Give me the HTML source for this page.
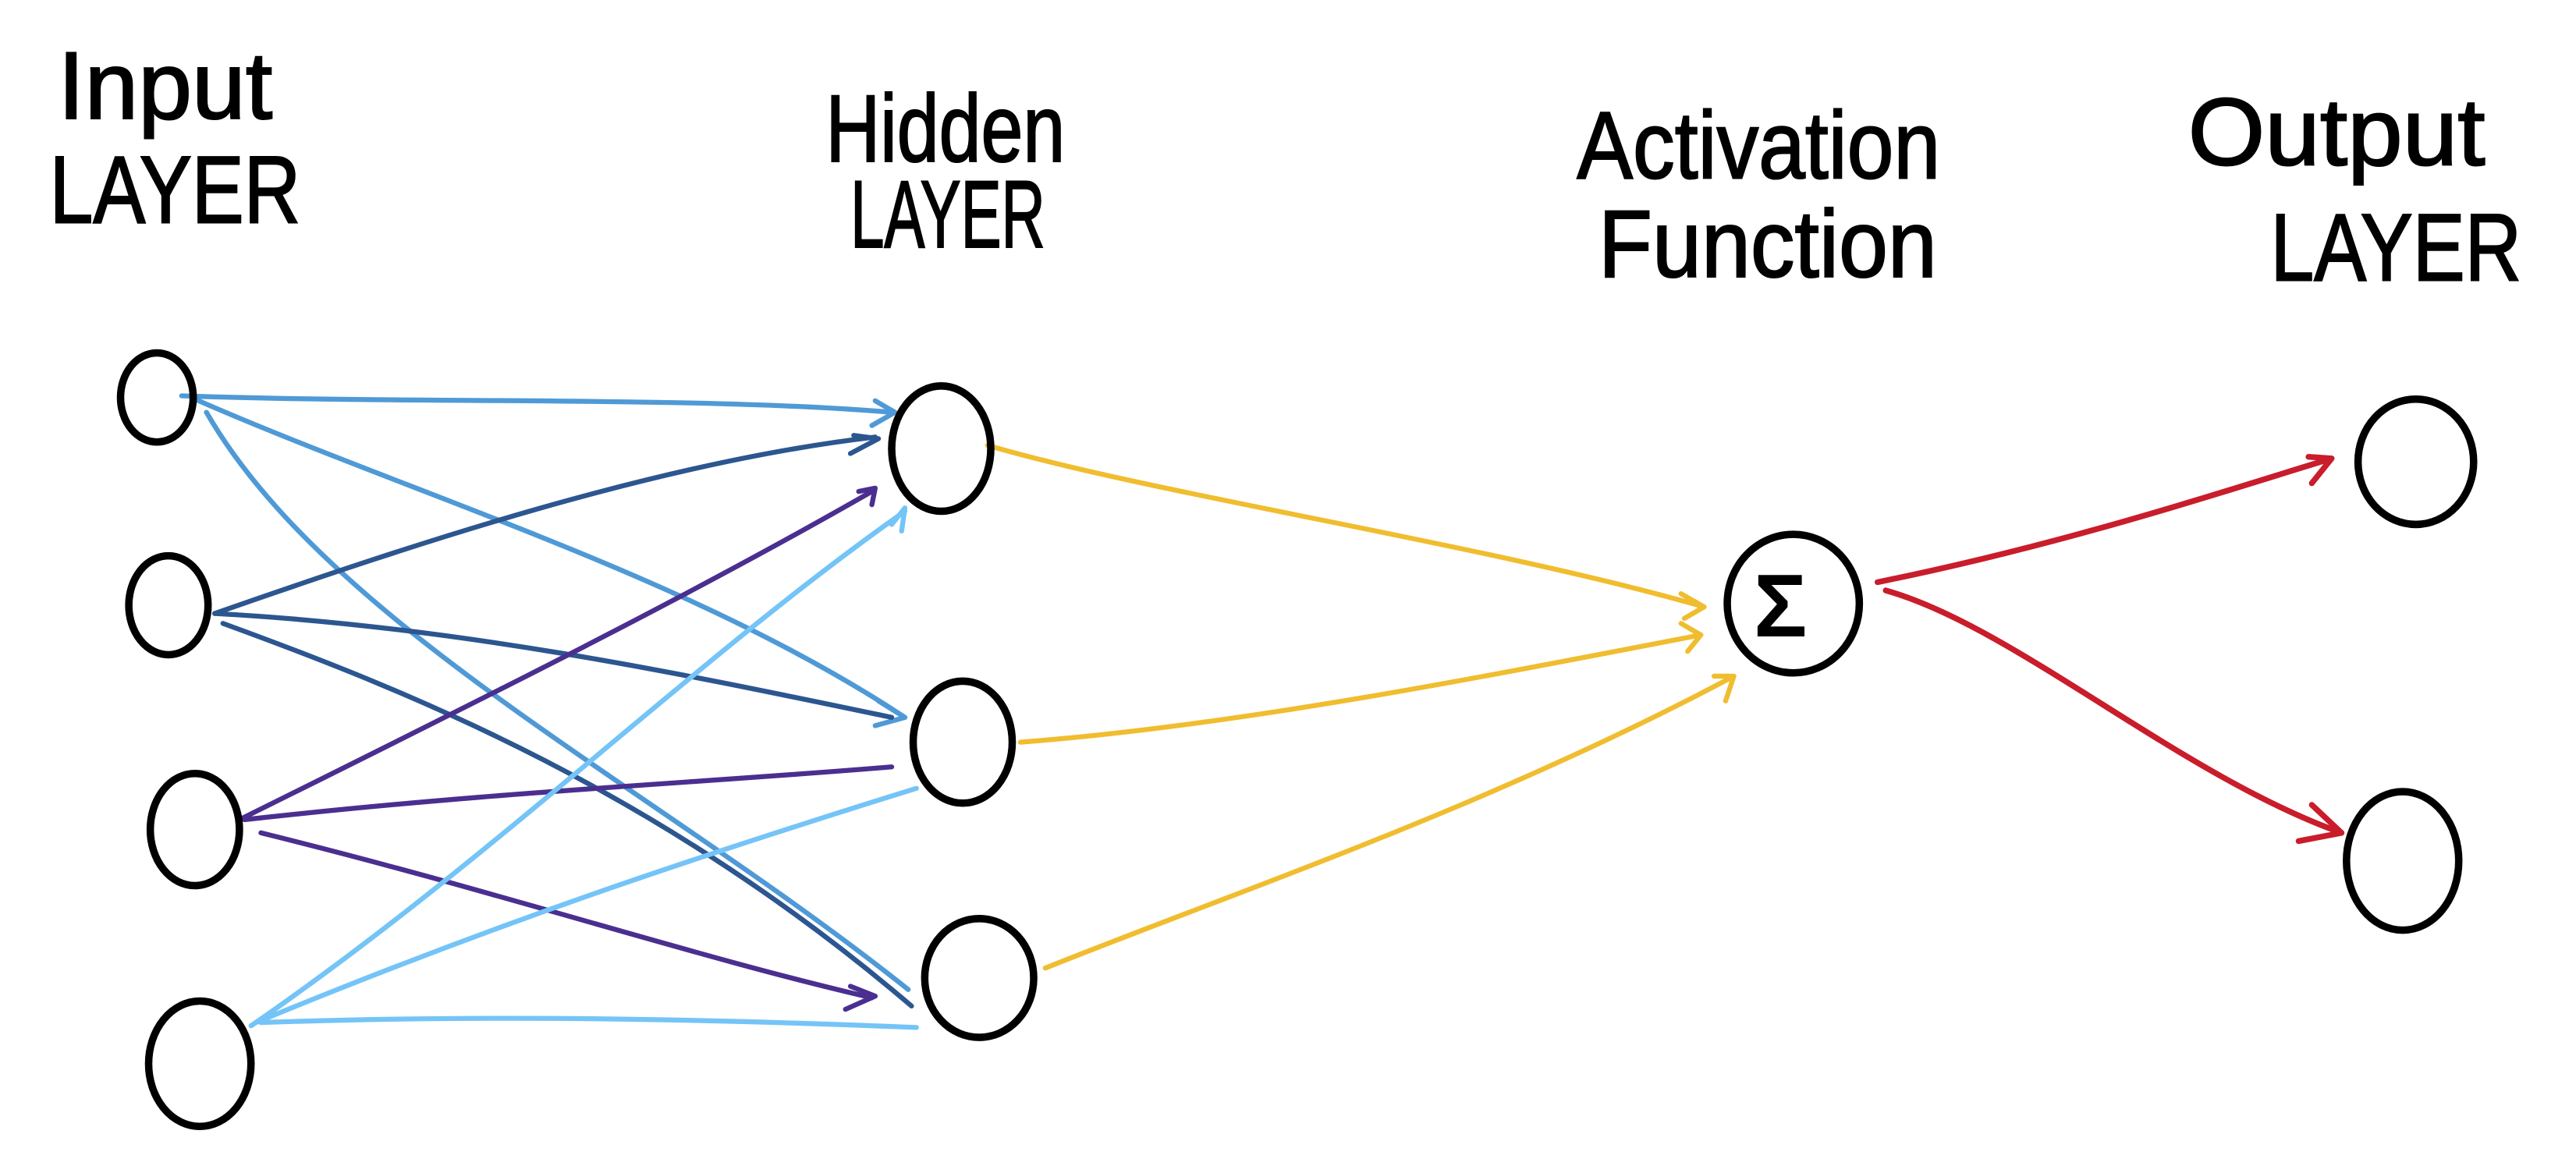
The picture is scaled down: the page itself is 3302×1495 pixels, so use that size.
<!DOCTYPE html>
<html><head><meta charset="utf-8"><style>
html,body{margin:0;padding:0;background:#fff;}
svg{display:block;}
text{font-family:"Liberation Sans Narrow","Liberation Sans",sans-serif;fill:#000;font-size:58px;stroke:#000;stroke-width:1;}
</style></head><body>
<svg width="3302" height="1495" viewBox="0 0 1560 707" preserveAspectRatio="none" xmlns="http://www.w3.org/2000/svg">
<g fill="none" stroke-linecap="round" stroke-linejoin="round">
<g stroke="#4f9ad6" stroke-width="3">
<path d="M110 240 C250 245 420 240 540 250"/>
<path d="M118 242 C250 300 420 350 548 435"/>
<path d="M125 250 C200 380 400 480 550 600"/>
<path d="M530 243 L542 250 L528 258"/>
<path d="M532 425 L548 435 L530 440"/>
</g>
<g stroke="#2c5690" stroke-width="3">
<path d="M130 372 C250 330 400 280 530 265"/>
<path d="M130 372 C280 380 420 410 540 435"/>
<path d="M135 378 C250 420 400 480 552 610"/>
<path d="M515 275 L532 266 L517 264"/>
</g>
<g stroke="#4a2f90" stroke-width="3">
<path d="M145 497 C300 420 420 360 528 298"/>
<path d="M148 497 C300 480 420 475 540 465"/>
<path d="M158 505 C300 540 420 580 528 605"/>
<path d="M520 298 L530 296 L528 306"/>
<path d="M512 612 L530 604 L515 598"/>
</g>
<g stroke="#74c4f7" stroke-width="3">
<path d="M152 622 C300 520 420 400 548 310"/>
<path d="M155 620 C300 560 420 520 555 478"/>
<path d="M158 620 C300 615 430 618 555 623"/>
<path d="M540 318 L548 308 L546 322"/>
</g>
<g stroke="#f0bd2f" stroke-width="3">
<path d="M598 270 C700 300 900 330 1032 368"/>
<path d="M618 450 C750 440 900 410 1030 385"/>
<path d="M633 587 C750 540 900 490 1050 410"/>
<path d="M1018 360 L1032 368 L1020 375"/>
<path d="M1018 378 L1030 385 L1022 395"/>
<path d="M1038 410 L1050 410 L1045 425"/>
</g>
<g stroke="#c91d2b" stroke-width="3.5">
<path d="M1137 353 C1250 330 1340 300 1412 278"/>
<path d="M1142 358 C1220 380 1320 470 1418 505"/>
<path d="M1398 277 L1412 278 L1400 293"/>
<path d="M1400 488 L1418 505 L1392 510"/>
</g>
<g stroke="#000" stroke-width="4.5">
<ellipse cx="95" cy="241" rx="22" ry="27"/>
<ellipse cx="102" cy="367" rx="24" ry="30"/>
<ellipse cx="118" cy="503" rx="27" ry="34"/>
<ellipse cx="121" cy="645" rx="31" ry="38"/>
<ellipse cx="570" cy="272" rx="30" ry="38"/>
<ellipse cx="583" cy="450" rx="30" ry="37"/>
<ellipse cx="593" cy="593" rx="33" ry="36"/>
<ellipse cx="1086" cy="366" rx="40" ry="42"/>
<ellipse cx="1463" cy="280" rx="35" ry="38"/>
<ellipse cx="1455" cy="522" rx="34" ry="42"/>
</g>
</g>
<text x="1062" y="386" style="font-size:54px;font-family:'Liberation Sans',sans-serif;font-weight:bold;stroke-width:0">Σ</text>
<text x="35" y="72" textLength="130" lengthAdjust="spacingAndGlyphs">Input</text>
<text x="30" y="135" textLength="152" lengthAdjust="spacingAndGlyphs">LAYER</text>
<text x="500" y="98" textLength="145" lengthAdjust="spacingAndGlyphs">Hidden</text>
<text x="515" y="150" textLength="118" lengthAdjust="spacingAndGlyphs">LAYER</text>
<text x="955" y="108" textLength="220" lengthAdjust="spacingAndGlyphs">Activation</text>
<text x="968" y="168" textLength="205" lengthAdjust="spacingAndGlyphs">Function</text>
<text x="1325" y="100" textLength="180" lengthAdjust="spacingAndGlyphs">Output</text>
<text x="1375" y="170" textLength="152" lengthAdjust="spacingAndGlyphs">LAYER</text>
</svg>
</body></html>
